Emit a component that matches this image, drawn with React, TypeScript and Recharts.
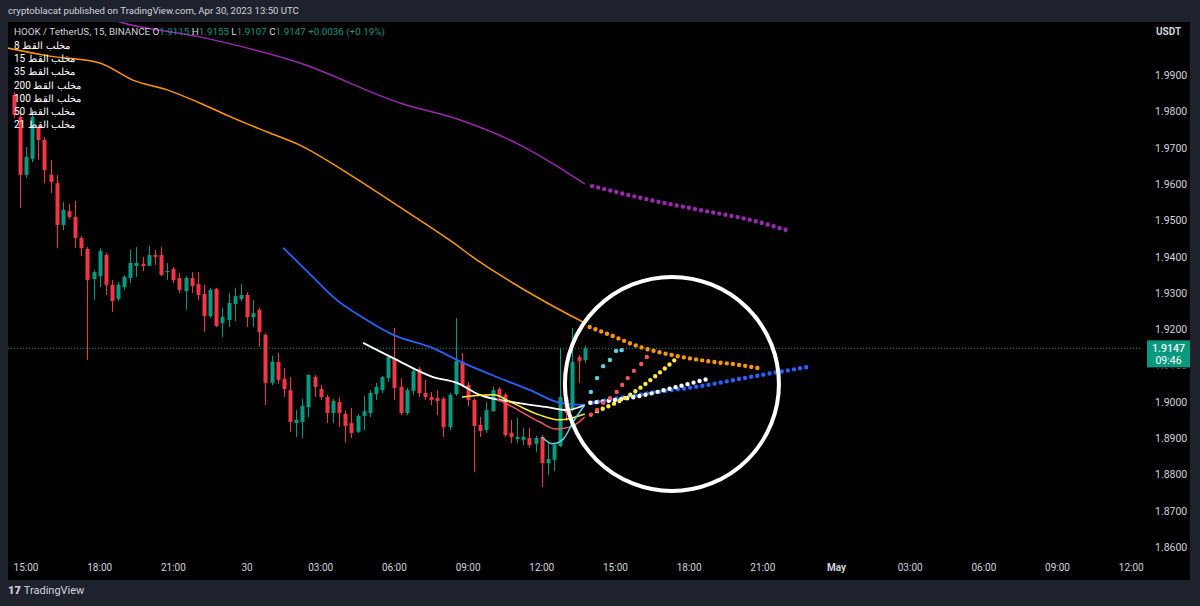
import React from 'react';
import { ComposedChart, Bar, Line, XAxis, YAxis, ReferenceLine, ReferenceDot } from 'recharts';

const FONT = 'Roboto, "Liberation Sans", sans-serif';
const UP = '#089981';
const DOWN = '#f23645';
const TEXT = '#d1d4dc';

// 15-minute candles, slot 0 = Apr 29 15:00 UTC
const firstSlot = -2;
const opens = [
  1.9845, 1.9784, 1.9625, 1.9669, 1.9754, 1.9721, 1.9625, 1.9602, 1.9487, 1.9525,
  1.9509, 1.9451, 1.9421, 1.9338, 1.9346, 1.9404, 1.9322, 1.9283, 1.9316, 1.9341,
  1.9374, 1.9380, 1.9374, 1.9404, 1.9404, 1.9357, 1.9366, 1.9341, 1.9305, 1.9341,
  1.9324, 1.9297, 1.9236, 1.9311, 1.9217, 1.9225, 1.9269, 1.9283, 1.9294, 1.9233,
  1.9253, 1.9184, 1.9052, 1.9110, 1.9063, 1.9032, 1.8941, 1.8944, 1.8985, 1.9068,
  1.9035, 1.9013, 1.8969, 1.8999, 1.8966, 1.8941, 1.8917, 1.8961, 1.8969, 1.9021,
  1.9032, 1.9065, 1.9118, 1.9041, 1.8969, 1.9030, 1.9090, 1.9024, 1.9013, 1.9010,
  1.9008, 1.8930, 1.9021, 1.9110, 1.9046, 1.9005, 1.8936, 1.8922, 1.8974, 1.9035,
  1.9019, 1.8914, 1.8897, 1.8895, 1.8900, 1.8884, 1.8903, 1.8831, 1.8840, 1.8878,
  1.9010, 1.8977, 1.9123, 1.9115,
];
const highs = [
  1.9853, 1.9798, 1.9702, 1.9804, 1.9762, 1.9729, 1.9666, 1.9625, 1.9550, 1.9545,
  1.9553, 1.9457, 1.9426, 1.9363, 1.9423, 1.9410, 1.9335, 1.9330, 1.9349, 1.9418,
  1.9426, 1.9399, 1.9429, 1.9418, 1.9426, 1.9382, 1.9371, 1.9355, 1.9346, 1.9357,
  1.9357, 1.9322, 1.9314, 1.9314, 1.9258, 1.9300, 1.9314, 1.9324, 1.9302, 1.9280,
  1.9258, 1.9189, 1.9126, 1.9134, 1.9093, 1.9068, 1.8977, 1.9008, 1.9076, 1.9074,
  1.9046, 1.9019, 1.9008, 1.9013, 1.8977, 1.8983, 1.8966, 1.9016, 1.9032, 1.9052,
  1.9071, 1.9129, 1.9203, 1.9065, 1.9038, 1.9093, 1.9096, 1.9060, 1.9027, 1.9032,
  1.9013, 1.9024, 1.9231, 1.9134, 1.9054, 1.9010, 1.8958, 1.8999, 1.9041, 1.9041,
  1.9024, 1.8950, 1.8955, 1.8928, 1.8928, 1.8906, 1.8908, 1.8889, 1.8889, 1.9148,
  1.9027, 1.9203, 1.9129, 1.9155,
];
const lows = [
  1.9782, 1.9534, 1.9616, 1.9660, 1.9666, 1.9602, 1.9575, 1.9423, 1.9473, 1.9503,
  1.9423, 1.9401, 1.9115, 1.9280, 1.9316, 1.9294, 1.9247, 1.9277, 1.9308, 1.9327,
  1.9344, 1.9360, 1.9374, 1.9377, 1.9346, 1.9335, 1.9327, 1.9300, 1.9253, 1.9300,
  1.9280, 1.9192, 1.9231, 1.9206, 1.9178, 1.9206, 1.9222, 1.9277, 1.9206, 1.9206,
  1.9151, 1.8991, 1.9046, 1.9049, 1.9013, 1.8917, 1.8903, 1.8900, 1.8958, 1.9013,
  1.9005, 1.8941, 1.8941, 1.8930, 1.8886, 1.8900, 1.8914, 1.8922, 1.8958, 1.9005,
  1.9024, 1.9054, 1.9005, 1.8963, 1.8963, 1.9019, 1.9013, 1.9005, 1.8991, 1.8963,
  1.8903, 1.8922, 1.9016, 1.9041, 1.8988, 1.8806, 1.8903, 1.8914, 1.8972, 1.8999,
  1.8903, 1.8886, 1.8886, 1.8881, 1.8873, 1.8862, 1.8765, 1.8798, 1.8809, 1.8875,
  1.8947, 1.8972, 1.9052, 1.9107,
];
const closes = [
  1.9790, 1.9625, 1.9674, 1.9784, 1.9721, 1.9638, 1.9605, 1.9487, 1.9528, 1.9509,
  1.9451, 1.9423, 1.9335, 1.9357, 1.9415, 1.9322, 1.9277, 1.9322, 1.9344, 1.9382,
  1.9382, 1.9374, 1.9404, 1.9399, 1.9349, 1.9360, 1.9335, 1.9308, 1.9341, 1.9319,
  1.9294, 1.9236, 1.9308, 1.9209, 1.9233, 1.9272, 1.9291, 1.9294, 1.9233, 1.9244,
  1.9192, 1.9052, 1.9110, 1.9060, 1.9035, 1.8944, 1.8950, 1.8988, 1.9074, 1.9041,
  1.9013, 1.8969, 1.9002, 1.8969, 1.8933, 1.8914, 1.8961, 1.8974, 1.9024, 1.9041,
  1.9068, 1.9123, 1.9038, 1.8969, 1.9032, 1.9085, 1.9024, 1.9013, 1.9005, 1.9002,
  1.8930, 1.9019, 1.9112, 1.9046, 1.9005, 1.8933, 1.8919, 1.8977, 1.9032, 1.9013,
  1.8908, 1.8903, 1.8903, 1.8903, 1.8881, 1.8900, 1.8831, 1.8842, 1.8881, 1.9013,
  1.8969, 1.9110, 1.9112, 1.9147,
];

// moving averages (slot, price)
const ma200 = [
  { k: 12, p: 2.0065 }, { k: 15.3, p: 2.0046 }, { k: 28.3, p: 2.0005 }, { k: 44.6, p: 1.9933 },
  { k: 60.9, p: 1.9823 }, { k: 70.7, p: 1.9776 }, { k: 80.5, p: 1.9707 }, { k: 86.2, p: 1.9652 },
  { k: 91, p: 1.96 },
];
const ma100 = [
  { k: -3.5, p: 1.9976 }, { k: 3.9, p: 1.9952 }, { k: 12, p: 1.9933 }, { k: 17.4, p: 1.9886 },
  { k: 23, p: 1.9859 }, { k: 28.3, p: 1.9823 }, { k: 33.7, p: 1.9782 }, { k: 39.3, p: 1.9743 },
  { k: 44.6, p: 1.9707 }, { k: 52.8, p: 1.9625 }, { k: 60.9, p: 1.9536 }, { k: 69, p: 1.9445 },
  { k: 73.9, p: 1.9385 }, { k: 79.3, p: 1.9327 }, { k: 84.9, p: 1.9272 }, { k: 91, p: 1.9217 },
];
const ma50 = [
  { k: 41.9, p: 1.9424 }, { k: 46.7, p: 1.9344 }, { k: 50, p: 1.9289 }, { k: 54.9, p: 1.9231 },
  { k: 59.8, p: 1.9184 }, { k: 65.8, p: 1.9151 }, { k: 71.2, p: 1.9107 }, { k: 76.7, p: 1.9068 },
  { k: 82.1, p: 1.9032 }, { k: 87, p: 1.8997 }, { k: 91, p: 1.8991 },
];
const ma35 = [
  { k: 54.9, p: 1.9162 }, { k: 59.8, p: 1.912 }, { k: 66.3, p: 1.9068 }, { k: 70.2, p: 1.9052 },
  { k: 73.9, p: 1.9019 }, { k: 79.3, p: 1.8999 }, { k: 84.9, p: 1.8985 }, { k: 88.1, p: 1.8977 },
  { k: 91, p: 1.8991 },
];
const ma21 = [
  { k: 71, p: 1.9013 }, { k: 76.1, p: 1.9019 }, { k: 79.3, p: 1.8996 }, { k: 83.7, p: 1.8963 },
  { k: 87, p: 1.895 }, { k: 91, p: 1.8966 },
];
const ma15 = [
  { k: 76.7, p: 1.9008 }, { k: 79.3, p: 1.8985 }, { k: 83.7, p: 1.8944 }, { k: 86.2, p: 1.8925 },
  { k: 88.6, p: 1.893 }, { k: 91, p: 1.8958 },
];
const ma8 = [
  { k: 84, p: 1.8903 }, { k: 85.8, p: 1.8884 }, { k: 87.5, p: 1.8897 }, { k: 89.1, p: 1.8944 },
  { k: 91, p: 1.8991 },
];

// dotted projections
const ma200Proj = [
  { k: 92.2, p: 1.9594 }, { k: 101.6, p: 1.9556 }, { k: 109.8, p: 1.9528 }, { k: 117.9, p: 1.9501 },
  { k: 124.4, p: 1.947 },
];
const ma100Proj = [
  { k: 91.8, p: 1.9206 }, { k: 95.1, p: 1.9184 }, { k: 100, p: 1.9151 }, { k: 106, p: 1.9126 },
  { k: 110.9, p: 1.9112 }, { k: 116.3, p: 1.9101 }, { k: 120, p: 1.909 },
];
const ma50Proj = [
  { k: 92.2, p: 1.8997 }, { k: 101.6, p: 1.9024 }, { k: 109.8, p: 1.9043 }, { k: 117.9, p: 1.9068 },
  { k: 127.4, p: 1.9096 },
];
const ma35Proj = [
  { k: 91.9, p: 1.8997 }, { k: 100, p: 1.9016 }, { k: 106, p: 1.9041 }, { k: 111.1, p: 1.9063 },
];
const ma21Proj = [
  { k: 93, p: 1.8974 }, { k: 98.1, p: 1.9016 }, { k: 102.9, p: 1.9076 }, { k: 106, p: 1.912 },
];
const ma15Proj = [
  { k: 92, p: 1.8964 }, { k: 93, p: 1.8977 }, { k: 94, p: 1.8997 }, { k: 95.1, p: 1.901 },
  { k: 96.2, p: 1.9027 }, { k: 97.1, p: 1.9046 }, { k: 98, p: 1.9065 }, { k: 99, p: 1.9085 },
  { k: 100.2, p: 1.9104 }, { k: 101.1, p: 1.9123 },
];
const ma8Proj = [
  { k: 92, p: 1.9027 }, { k: 93, p: 1.9065 }, { k: 94, p: 1.9098 }, { k: 95.1, p: 1.9115 },
  { k: 96.1, p: 1.914 }, { k: 97, p: 1.9142 },
];

const timeTicks = [0, 12, 24, 36, 48, 60, 72, 84, 96, 108, 120, 132, 144, 156, 168, 180];
const timeLabels = ['15:00', '18:00', '21:00', '30', '03:00', '06:00', '09:00', '12:00', '15:00', '18:00', '21:00', 'May', '03:00', '06:00', '09:00', '12:00'];
const priceTicks = [1.86, 1.87, 1.88, 1.89, 1.9, 1.91, 1.92, 1.93, 1.94, 1.95, 1.96, 1.97, 1.98, 1.99];
const maLengths = ['8', '15', '35', '200', '100', '50', '21'];

const lastPrice = 1.9147;
const countdown = '09:46';
const circleCenter = { k: 105.2, p: 1.9049 };

const candles = opens.map((o, i) => ({
  k: firstSlot + i,
  open: o,
  high: highs[i],
  low: lows[i],
  close: closes[i],
  range: [lows[i], highs[i]],
}));

const BODY = 4;

const Candle = (props: any) => {
  const { x, y, width, height, payload } = props;
  if (!payload) return null;
  const { open, close, high, low } = payload;
  const top = Math.min(y, y + height);
  const h = Math.abs(height);
  const toY = (v: number) => top + ((high - v) / (high - low)) * h;
  const color = close >= open ? UP : DOWN;
  const cx = Math.round(x + width / 2) + 0.5;
  const bTop = toY(Math.max(open, close));
  const bBot = toY(Math.min(open, close));
  return (
    <g>
      <line x1={cx} x2={cx} y1={top} y2={top + h} stroke={color} strokeWidth={1} />
      <rect x={cx - BODY / 2} y={bTop} width={BODY} height={Math.max(1, bBot - bTop)} fill={color} />
    </g>
  );
};

const TimeTick = ({ x, y, payload }: any) => {
  const label = timeLabels[timeTicks.indexOf(payload.value)];
  return (
    <text x={x} y={y} dy={7} textAnchor="middle" fill={TEXT} fontSize={10} fontFamily={FONT} fontWeight={label === 'May' ? 700 : 400}>
      {label}
    </text>
  );
};

const PriceTag = (props: any) => {
  const vb = props.viewBox;
  if (!vb) return null;
  const x = vb.x + vb.width + 7;
  const y = vb.y;
  return (
    <g>
      <rect x={x} y={y - 8} width={43} height={27} fill={UP} />
      <text x={x + 21.5} y={y + 3.5} textAnchor="middle" fill="#fff" fontSize={10.5} fontFamily={FONT} fontWeight={500}>
        {lastPrice.toFixed(4)}
      </text>
      <text x={x + 21.5} y={y + 15.5} textAnchor="middle" fill="#fff" fontSize={10.5} fontFamily={FONT}>
        {countdown}
      </text>
    </g>
  );
};

// 1.9100 sits under the price tag: only its lower sliver shows, as in the chart
const PriceTick = ({ x, y, payload }: any) => {
  const v = payload.value;
  const hidden = Math.abs(v - 1.91) < 1e-6;
  return (
    <g>
      {hidden && (
        <defs>
          <clipPath id="tagClip">
            <rect x={x - 5} y={y + 3} width={60} height={10} />
          </clipPath>
        </defs>
      )}
      <text x={x} y={y} dy={4} fill={TEXT} fontSize={10.5} fontFamily={FONT} clipPath={hidden ? 'url(#tagClip)' : undefined}>
        {v.toFixed(4)}
      </text>
    </g>
  );
};

const line = (data: any[], color: string, width = 1.5) => (
  <Line data={data} dataKey="p" type="monotone" stroke={color} strokeWidth={width} dot={false} isAnimationActive={false} />
);

const dotted = (data: any[], color: string) => (
  <Line data={data} dataKey="p" type="monotone" stroke={color} strokeWidth={4.4} strokeLinecap="round" strokeDasharray="0 6.2" dot={false} isAnimationActive={false} />
);

const dots = (data: any[], color: string) => (
  <Line data={data} dataKey="p" stroke="none" dot={{ r: 2.2, fill: color, stroke: 'none' }} isAnimationActive={false} />
);

export default function App() {
  return (
    <div style={{ position: 'fixed', left: 0, top: 0, width: 1200, height: 606, background: '#1e222d', overflow: 'hidden', fontFamily: FONT }}>
      <div style={{ position: 'absolute', left: 8, top: 5, fontSize: 9.6, color: TEXT, whiteSpace: 'nowrap' }}>
        cryptoblacat published on TradingView.com, Apr 30, 2023 13:50 UTC
      </div>
      <div style={{ position: 'absolute', left: 8, top: 22, width: 1182, height: 558, background: '#000' }}>
        <ComposedChart width={1182} height={558} data={candles} margin={{ top: 0, right: 0, bottom: 0, left: 0 }}>
          <XAxis
            dataKey="k"
            type="number"
            domain={[-2.93, 181.43]}
            allowDataOverflow
            ticks={timeTicks}
            tick={<TimeTick />}
            axisLine={false}
            tickLine={false}
            height={24}
            interval={0}
          />
          <YAxis
            orientation="right"
            type="number"
            domain={[1.8575, 2.0046]}
            allowDataOverflow
            ticks={priceTicks}
            tick={<PriceTick />}
            axisLine={false}
            tickLine={false}
            tickMargin={9}
            width={50}
            interval={0}
          />
          <ReferenceLine y={lastPrice} stroke={UP} strokeDasharray="1 2" strokeWidth={1} label={<PriceTag />} />
          <Bar dataKey="range" barSize={4} shape={<Candle />} isAnimationActive={false} />
          {line(ma200, '#9c27b0')}
          {line(ma100, '#ff9800')}
          {line(ma50, '#2962ff', 1.8)}
          {line(ma35, '#ffffff', 1.8)}
          {line(ma21, '#ffeb3b')}
          {line(ma15, '#f7525f')}
          {line(ma8, '#5fd3e6')}
          {dotted(ma200Proj, '#9c27b0')}
          {dotted(ma100Proj, '#ff9800')}
          {dotted(ma50Proj, '#2962ff')}
          {dotted(ma35Proj, '#ffffff')}
          {dotted(ma21Proj, '#ffeb3b')}
          {dots(ma15Proj, '#f7525f')}
          {dots(ma8Proj, '#5fd3e6')}
          <ReferenceDot x={circleCenter.k} y={circleCenter.p} r={107} fill="none" stroke="#ffffff" strokeWidth={4} />
        </ComposedChart>
      </div>
      <div style={{ position: 'absolute', left: 14, top: 26, fontSize: 9.8, color: TEXT, whiteSpace: 'nowrap' }}>
        HOOK / TetherUS, 15, BINANCE O<span style={{ color: UP }}>1.9115</span> H<span style={{ color: UP }}>1.9155</span> L
        <span style={{ color: UP }}>1.9107</span> C<span style={{ color: UP }}>1.9147</span> <span style={{ color: UP }}>+0.0036 (+0.19%)</span>
      </div>
      {maLengths.map((n, i) => (
        <div key={n} style={{ position: 'absolute', left: 14, top: 39 + i * 13.2, fontSize: 10, color: '#fff', whiteSpace: 'nowrap', lineHeight: '13px' }}>
          {'مخلب القط ' + n}
        </div>
      ))}
      <div style={{ position: 'absolute', left: 1156, top: 26, fontSize: 10, fontWeight: 700, color: TEXT }}>USDT</div>
      <div style={{ position: 'absolute', left: 8, top: 584, fontSize: 11, color: TEXT, whiteSpace: 'nowrap' }}>
        <span style={{ fontWeight: 900, marginRight: 3 }}>17</span>TradingView
      </div>
    </div>
  );
}
